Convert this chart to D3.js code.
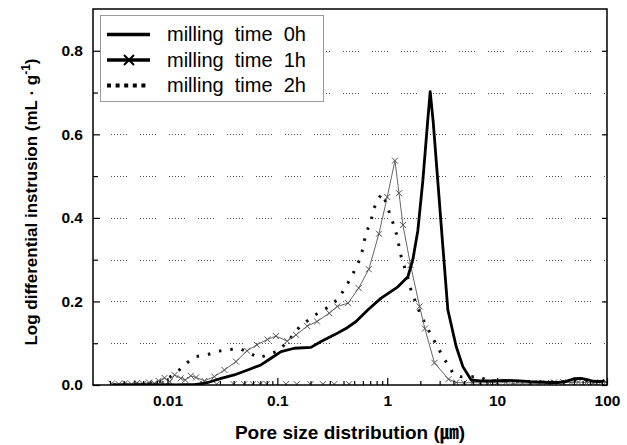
<!DOCTYPE html>
<html>
<head>
<meta charset="utf-8">
<script src="https://cdn.jsdelivr.net/npm/d3@7"></script>
<style>
  body { margin: 0; background: #fff; }
  svg { display: block; }
  text { font-family: "Liberation Sans", Arial, "Noto Sans CJK JP", sans-serif; }
</style>
</head>
<body>
<svg id="chart" width="627" height="445"></svg>
<script>
const seriesNames = ["milling  time  0h", "milling  time  1h", "milling  time  2h"];

const size0h = [0.0032, 0.004, 0.005, 0.006, 0.007, 0.008, 0.009, 0.010, 0.012, 0.014, 0.016, 0.0176, 0.0205, 0.0233, 0.0308, 0.0405, 0.0537, 0.0709, 0.0875, 0.108, 0.143, 0.202, 0.25, 0.33, 0.42, 0.52, 0.668, 0.88, 1.25, 1.54, 1.71, 1.90, 2.11, 2.34, 2.46, 2.62, 2.9, 3.2, 3.56, 4.24, 4.88, 5.81, 7, 9, 12, 16, 20, 25, 30, 36, 42, 50, 58, 66, 75, 85, 95];
const val0h = [0, 0, 0, 0.001, 0, 0.001, 0, 0.001, 0, 0.001, 0.001, 0.001, 0.003, 0.006, 0.016, 0.024, 0.036, 0.048, 0.064, 0.08, 0.088, 0.09, 0.104, 0.12, 0.135, 0.152, 0.18, 0.208, 0.235, 0.259, 0.30, 0.37, 0.49, 0.635, 0.702, 0.63, 0.48, 0.335, 0.18, 0.092, 0.044, 0.012, 0.01, 0.01, 0.011, 0.01, 0.008, 0.007, 0.006, 0.006, 0.008, 0.015, 0.016, 0.013, 0.009, 0.008, 0.01];

const size1h = [0.0031, 0.0036, 0.0041, 0.0047, 0.0053, 0.006, 0.0068, 0.0076, 0.0083, 0.0094, 0.0105, 0.0116, 0.0132, 0.0145, 0.0163, 0.0182, 0.0217, 0.0267, 0.033, 0.042, 0.053, 0.065, 0.081, 0.097, 0.123, 0.148, 0.187, 0.23, 0.297, 0.351, 0.44, 0.55, 0.68, 0.84, 1.0, 1.175, 1.28, 1.39, 1.63, 1.97, 2.2, 2.69, 3.61, 4.24, 5, 6, 7, 8.5, 10, 12, 14, 17, 20, 24, 28, 33, 40, 47, 55, 65, 75, 88, 98];
const val1h = [0.003, 0.002, 0.004, 0.002, 0.005, 0.003, 0.006, 0.004, 0.01, 0.017, 0.008, 0.024, 0.016, 0.012, 0.022, 0.018, 0.010, 0.02, 0.036, 0.056, 0.082, 0.096, 0.109, 0.117, 0.105, 0.12, 0.141, 0.152, 0.172, 0.188, 0.196, 0.232, 0.277, 0.362, 0.45, 0.537, 0.459, 0.383, 0.287, 0.188, 0.135, 0.053, 0.014, 0.006, 0.005, 0.006, 0.005, 0.006, 0.005, 0.006, 0.004, 0.005, 0.004, 0.004, 0.005, 0.006, 0.007, 0.006, 0.007, 0.006, 0.005, 0.006, 0.007];
// loose 1h points sitting on the baseline
const baseline1h = [0.028, 0.04, 0.05, 0.06, 0.07, 0.08, 0.12, 0.15, 0.2, 0.26, 0.33, 0.45];

const size2h = [0.0032, 0.004, 0.005, 0.006, 0.007, 0.0081, 0.0095, 0.011, 0.0128, 0.0152, 0.0182, 0.0233, 0.0293, 0.0365, 0.0457, 0.0684, 0.103, 0.13, 0.16, 0.195, 0.236, 0.289, 0.351, 0.396, 0.445, 0.498, 0.55, 0.59, 0.615, 0.66, 0.715, 0.757, 0.834, 0.9, 1.0, 1.07, 1.165, 1.23, 1.34, 1.52, 1.65, 2.0, 2.5, 2.97, 3.26, 3.69, 3.96, 4.6, 5.5, 6.65, 8, 10, 13, 17, 22, 28, 36, 46, 60, 75, 95];
const val2h = [0.001, 0.002, 0.001, 0.002, 0.003, 0.006, 0.012, 0.022, 0.036, 0.054, 0.068, 0.073, 0.081, 0.085, 0.087, 0.065, 0.082, 0.11, 0.14, 0.157, 0.173, 0.186, 0.204, 0.224, 0.247, 0.271, 0.295, 0.319, 0.343, 0.371, 0.395, 0.423, 0.447, 0.458, 0.43, 0.403, 0.379, 0.355, 0.307, 0.262, 0.226, 0.17, 0.12, 0.084, 0.064, 0.044, 0.028, 0.02, 0.018, 0.022, 0.012, 0.009, 0.008, 0.009, 0.008, 0.007, 0.008, 0.009, 0.01, 0.009, 0.008];

const xMajor = [0.01, 0.1, 1, 10, 100];
const xLabels = ["0.01", "0.1", "1", "10", "100"];
const yMajor = [0, 0.2, 0.4, 0.6, 0.8];
const yLabels = ["0.0", "0.2", "0.4", "0.6", "0.8"];
const yMinor = [0.1, 0.3, 0.5, 0.7];
const yGrid = [0.1, 0.2, 0.3, 0.4, 0.5, 0.6, 0.7, 0.8];

const svg = d3.select("#chart");
const L = 93, R = 607, T = 9, B = 385;

const x = d3.scaleLog().domain([0.0021, 100]).range([L, R]);
const y = d3.scaleLinear().domain([0, 0.9]).range([B, T]);

const xMinor = [];
[0.001, 0.01, 0.1, 1, 10].forEach(dec => {
  for (let k = 2; k <= 9; k++) {
    const v = dec * k;
    if (v >= 0.0021 && v < 100) xMinor.push(v);
  }
});

// grid
svg.append("g")
  .selectAll("line")
  .data(yGrid)
  .join("line")
  .attr("x1", L + 18)
  .attr("x2", R)
  .attr("y1", d => Math.round(y(d)) + 0.5)
  .attr("y2", d => Math.round(y(d)) + 0.5)
  .attr("stroke", "#555")
  .attr("stroke-width", 1)
  .attr("stroke-dasharray", "1,2,1,2,1,2,1,2,1,2,1,13");

svg.append("defs").append("clipPath").attr("id", "plot")
  .append("rect").attr("x", L).attr("y", T).attr("width", R - L).attr("height", B - T);

const toPoints = (s, v) => s.map((d, i) => ({s: d, v: v[i]}));
const line = d3.line().x(d => x(d.s)).y(d => y(d.v));

const curves = svg.append("g").attr("clip-path", "url(#plot)");

curves.append("path")
  .datum(toPoints(size2h, val2h))
  .attr("d", line)
  .attr("fill", "none")
  .attr("stroke", "#111")
  .attr("stroke-width", 3)
  .attr("stroke-dasharray", "2.5,9");

curves.append("path")
  .datum(toPoints(size1h, val1h))
  .attr("d", line)
  .attr("fill", "none")
  .attr("stroke", "#666")
  .attr("stroke-width", 1);

const cross = "M-3,-3L3,3M-3,3L3,-3";
curves.append("g")
  .selectAll("path")
  .data(toPoints(size1h, val1h).concat(baseline1h.map(s => ({s: s, v: 0.002}))))
  .join("path")
  .attr("transform", d => `translate(${x(d.s)},${y(d.v)})`)
  .attr("d", cross)
  .attr("fill", "none")
  .attr("stroke", "#555")
  .attr("stroke-width", 1);

curves.append("path")
  .datum(toPoints(size0h, val0h))
  .attr("d", line)
  .attr("fill", "none")
  .attr("stroke", "#000")
  .attr("stroke-width", 2.8)
  .attr("stroke-linejoin", "round");

// axes
svg.append("g").attr("transform", `translate(0,${B})`)
  .call(d3.axisBottom(x).tickValues(xMajor).tickSizeInner(-7).tickSizeOuter(0)
    .tickPadding(10).tickFormat((d, i) => xLabels[i]));
svg.append("g").attr("transform", `translate(0,${B})`)
  .call(d3.axisBottom(x).tickValues(xMinor).tickSizeInner(-4).tickSizeOuter(0).tickFormat(""));

svg.append("g").attr("transform", `translate(${L},0)`)
  .call(d3.axisLeft(y).tickValues(yMajor).tickSizeInner(-7).tickSizeOuter(0)
    .tickPadding(10).tickFormat((d, i) => yLabels[i]));
svg.append("g").attr("transform", `translate(${L},0)`)
  .call(d3.axisLeft(y).tickValues(yMinor).tickSizeInner(-5).tickSizeOuter(0).tickFormat(""));
svg.append("g").attr("transform", `translate(${R},0)`)
  .call(d3.axisRight(y).tickValues(yMajor).tickSizeInner(-5).tickSizeOuter(0).tickFormat(""));

svg.selectAll(".domain").remove();
svg.selectAll(".tick line").attr("stroke", "#000").attr("stroke-width", 1.2);
svg.selectAll(".tick text")
  .attr("fill", "#000")
  .style("font-size", "15.5px")
  .style("font-weight", "bold");

svg.append("rect")
  .attr("x", L).attr("y", T)
  .attr("width", R - L).attr("height", B - T)
  .attr("fill", "none")
  .attr("stroke", "#000")
  .attr("stroke-width", 1.5);

// titles
svg.append("text")
  .attr("x", (L + R) / 2)
  .attr("y", 439)
  .attr("text-anchor", "middle")
  .style("font-size", "19px")
  .style("font-weight", "bold")
  .text("Pore size distribution (㎛)");

const yTitle = svg.append("text")
  .attr("transform", `translate(37,${(T + B) / 2 + 5}) rotate(-90)`)
  .attr("text-anchor", "middle")
  .style("font-size", "17px")
  .style("font-weight", "bold");
yTitle.append("tspan").text("Log differential instrusion (mL · g");
yTitle.append("tspan").attr("dy", -7).style("font-size", "12px").text("-1");
yTitle.append("tspan").attr("dy", 7).text(")");

// legend
const legend = svg.append("g");
legend.append("rect")
  .attr("x", 100.5).attr("y", 15.5)
  .attr("width", 223).attr("height", 86)
  .attr("fill", "#fff")
  .attr("stroke", "#999")
  .attr("stroke-width", 1);

const rowY = [34.5, 60, 85.5];
const rows = legend.selectAll("g.row")
  .data(seriesNames)
  .join("g")
  .attr("class", "row")
  .attr("transform", (d, i) => `translate(0,${rowY[i]})`);

rows.append("line")
  .attr("x1", 107).attr("x2", 150)
  .attr("stroke", "#000")
  .attr("stroke-width", (d, i) => i == 2 ? 4 : 3.5)
  .attr("stroke-dasharray", (d, i) => i == 2 ? "4,4.6" : null);

rows.filter((d, i) => i == 1)
  .append("path")
  .attr("transform", "translate(129,0)")
  .attr("d", "M-5,-5L5,5M-5,5L5,-5")
  .attr("stroke", "#000")
  .attr("stroke-width", 2);

rows.append("text")
  .attr("x", 167)
  .attr("y", 6.5)
  .attr("fill", "#000")
  .style("font-size", "20px")
  .style("white-space", "pre")
  .text(d => d);
</script>
</body>
</html>
